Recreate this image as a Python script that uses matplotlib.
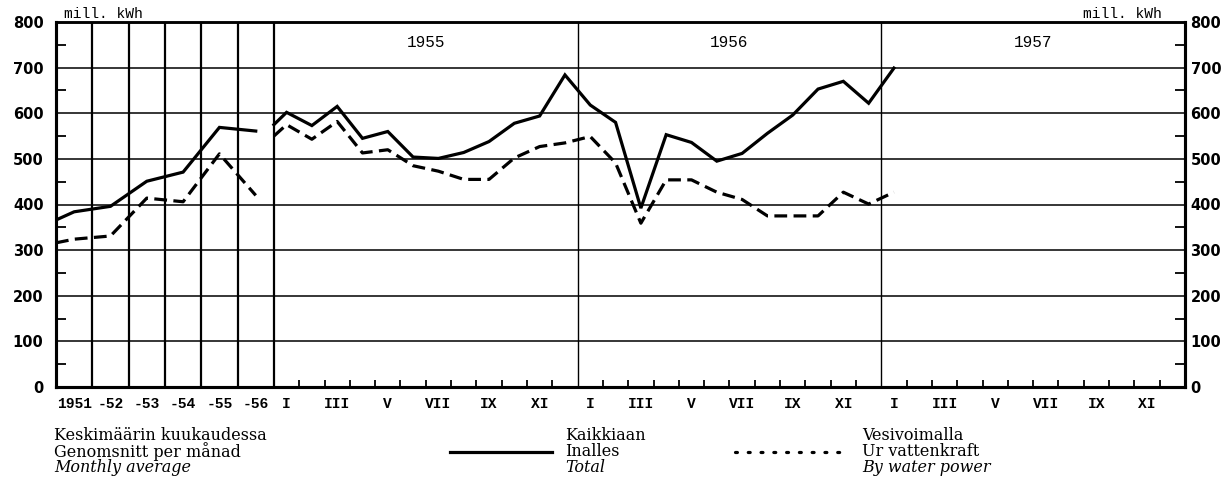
import matplotlib.pyplot as plt
from matplotlib.lines import Line2D
import numpy as np

# --- DATA ---
year_labels = ['1951', '-52', '-53', '-54', '-55', '-56']
annual_total = [384, 396, 451, 471, 569, 561]
annual_water = [324, 331, 414, 406, 511, 420]
annual_total_start = 366   # lines are drawn in from the left edge of the section
annual_water_start = 316

chart_years = ['1955', '1956', '1957']
month_labels = ['I', '', 'III', '', 'V', '', 'VII', '', 'IX', '', 'XI', '']
monthly_total = [602, 573, 615, 545, 560, 504, 501, 514, 538, 578, 594, 684,
                 618, 580, 392, 553, 536, 495, 512, 556, 596, 653, 670, 622,
                 699]
monthly_water = [575, 543, 582, 513, 520, 485, 473, 455, 455, 502, 527, 535,
                 549, 491, 359, 454, 454, 427, 411, 375, 375, 375, 427, 401,
                 427]
monthly_total_start = 575
monthly_water_start = 550


def main():
    fig = plt.figure(figsize=(12.27, 4.78), dpi=100)
    ax = fig.add_axes([56 / 1227, 91 / 478, 1129 / 1227, 365 / 478])

    # x in month units; an annual column is wider than a month
    yw = 1.435
    m0 = 6 * yw
    n_years = len(chart_years)

    xa = yw * (np.arange(len(year_labels)) + 0.5)
    xm = m0 + np.arange(len(monthly_total)) + 0.5

    lw = 2.3
    ax.plot(np.r_[0, xa], np.r_[annual_total_start, annual_total], color='black', lw=lw,
            solid_joinstyle='miter', zorder=4)
    ax.plot(np.r_[0, xa], np.r_[annual_water_start, annual_water], color='black', lw=lw,
            dashes=(4, 2), zorder=4)
    ax.plot(np.r_[m0, xm], np.r_[monthly_total_start, monthly_total], color='black', lw=lw,
            solid_joinstyle='miter', zorder=4)
    ax.plot(np.r_[m0, xm], np.r_[monthly_water_start, monthly_water], color='black', lw=lw,
            dashes=(4, 2), zorder=4)

    ax.set_xlim(0, m0 + 12 * n_years)
    ax.set_ylim(0, 800)

    # grid
    for v in range(100, 800, 100):
        ax.axhline(v, color='black', lw=1.1, zorder=2)
    for k in range(1, len(year_labels) + 1):
        ax.axvline(yw * k, color='black', lw=1.6, zorder=2)
    for k in range(1, n_years):
        ax.axvline(m0 + 12 * k, color='black', lw=1.0, zorder=2)

    for i, yl in enumerate(chart_years):
        ax.text(m0 + 12 * i + 6, 755, yl, ha='center', va='center',
                family='Liberation Mono', fontsize=11.5)

    ax.text(8 / 1129, 1.003, 'mill. kWh', transform=ax.transAxes, ha='left', va='bottom',
            family='Liberation Mono', fontsize=10.5)
    ax.text(1106 / 1129, 1.003, 'mill. kWh', transform=ax.transAxes, ha='right', va='bottom',
            family='Liberation Mono', fontsize=10.5)

    # x ticks
    xt = list(xa)
    xl = list(year_labels)
    for i in range(n_years):
        for j, lab in enumerate(month_labels):
            if lab:
                xt.append(m0 + 12 * i + j + 0.5)
                xl.append(lab)
    ax.set_xticks(xt)
    ax.set_xticklabels(xl, family='Liberation Mono', fontweight='bold', fontsize=10.5)
    ax.tick_params(axis='x', which='major', length=0, pad=7)
    month_ticks = [m0 + k for k in range(1, 12 * n_years) if k % 12]
    ax.set_xticks(month_ticks, minor=True)
    ax.tick_params(axis='x', which='minor', direction='in', length=5, width=1.3,
                   bottom=True, top=False)

    # y ticks, left and right
    ax2 = ax.twinx()
    ax2.set_ylim(0, 800)
    for a, side, pad in [(ax, 'left', 9), (ax2, 'right', 4)]:
        a.set_yticks(range(0, 801, 100))
        a.set_yticks(range(50, 800, 100), minor=True)
        a.tick_params(axis='y', which='major', length=0, pad=pad, labelsize=10.5)
        a.tick_params(axis='y', which='minor', direction='in', length=7, width=1.3)
        for t in a.get_yticklabels():
            t.set_family('DejaVu Sans')
            t.set_fontweight('bold')
    ax.tick_params(axis='y', which='minor', right=False)

    for a in (ax, ax2):
        for s in ['left', 'right', 'bottom']:
            a.spines[s].set_linewidth(2.2)
        a.spines['top'].set_linewidth(1.8)

    # legend drawn as in the original print
    serif = 'DejaVu Serif'
    fs = 11.5
    ys = [1 - 435 / 478, 1 - 452 / 478, 1 - 468 / 478]
    blocks = [
        (54, ['Keskimäärin kuukaudessa', 'Genomsnitt per månad', 'Monthly average']),
        (565, ['Kaikkiaan', 'Inalles', 'Total']),
        (862, ['Vesivoimalla', 'Ur vattenkraft', 'By water power']),
    ]
    for x, lines in blocks:
        for k, (y, s) in enumerate(zip(ys, lines)):
            fig.text(x / 1227, y, s, ha='left', va='center', family=serif, fontsize=fs,
                     style='italic' if k == 2 else 'normal')
    fig.add_artist(Line2D([450 / 1227, 552 / 1227], [ys[1]] * 2, color='black', lw=2.3))
    fig.add_artist(Line2D([735 / 1227, 840 / 1227], [ys[1]] * 2, color='black', lw=2.3,
                          linestyle=(0, (0.6, 3.4)), dash_capstyle='round'))

    fig.savefig('out.png', dpi=100, facecolor='white')


if __name__ == '__main__':
    main()
